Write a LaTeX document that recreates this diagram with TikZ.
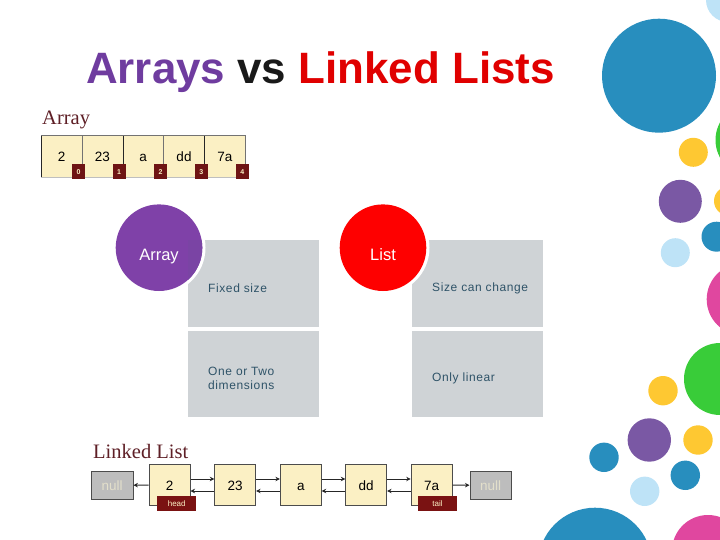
\documentclass[tikz,border=0pt]{standalone}
\usepackage{fontspec}
\usetikzlibrary{arrows.meta}
\setmainfont{Liberation Sans}
\newfontfamily\spaced[LetterSpace=5]{Liberation Sans}
\newfontfamily\serifface{Liberation Serif}
\definecolor{dotblue}{HTML}{288EBE}
\definecolor{dotlight}{HTML}{BEE3F7}
\definecolor{dotgreen}{HTML}{39CC39}
\definecolor{dotyellow}{HTML}{FEC832}
\definecolor{dotpurple}{HTML}{7A58A4}
\definecolor{dotpink}{HTML}{E0479F}
\definecolor{titlepurple}{HTML}{6F3C9F}
\definecolor{titlered}{HTML}{E00000}
\definecolor{cpurple}{HTML}{7F41A8}
\definecolor{cpurpled}{HTML}{7A44A4}
\definecolor{cred}{HTML}{FE0000}
\definecolor{panel}{HTML}{CFD3D6}
\definecolor{paneltext}{HTML}{2F5368}
\definecolor{cellfill}{HTML}{FBF0C4}
\definecolor{maroon}{HTML}{6E1414}
\definecolor{headfill}{HTML}{7A1212}
\definecolor{nullfill}{HTML}{BDBDBD}
\definecolor{nulltext}{HTML}{E3DFCB}
\definecolor{heading}{HTML}{5E1F26}
\tikzset{
  dot/.style={circle,fill=#1,draw=none,inner sep=0pt},
  panelbox/.style={fill=panel,draw=none,minimum width=131.5pt,minimum height=86.5pt,inner sep=0pt},
  paneltxt/.style={anchor=west,text=paneltext,font=\fontsize{12}{14}\spaced,align=left,inner sep=0pt},
  acell/.style={fill=cellfill,draw=none,minimum width=40.8pt,minimum height=40.7pt,inner sep=0pt,text height=10pt,text depth=0pt,font=\fontsize{13.5}{15}\selectfont},
  idx/.style={fill=maroon,draw=none,minimum width=13pt,minimum height=15pt,inner sep=0pt,text=cellfill,font=\fontsize{7}{8}\bfseries\selectfont},
  lnode/.style={fill=cellfill,draw=black!70,line width=0.8pt,minimum width=41pt,minimum height=41.4pt,inner sep=0pt,text height=10pt,text depth=0pt,font=\fontsize{13.5}{15}\selectfont},
  nullbox/.style={fill=nullfill,draw=black!70,line width=0.9pt,minimum width=41.5pt,minimum height=28.3pt,inner sep=0pt,text=nulltext,text height=10pt,text depth=0pt,font=\fontsize{13.5}{15}\selectfont},
  endtag/.style={fill=headfill,draw=none,minimum width=38.6pt,minimum height=15pt,inner sep=0pt,text=cellfill,font=\fontsize{8}{9}\selectfont},
  lk/.style={draw=black!85,line width=1pt,-{Stealth[length=4.5pt,width=4.5pt]}},
  heavy/.style={draw=black!85,line width=0.8pt},
  lightline/.style={draw=black!55,line width=0.7pt},
}
\begin{document}
\begin{tikzpicture}[x=1pt,y=-1pt]
\useasboundingbox (0,0) rectangle (720,540);
% decorative dots
\node[dot=dotblue,minimum size=114pt] (d1) at (659,75.7) {};
\node[dot=dotlight,minimum size=44pt] (d2) at (728,0) {};
\node[dot=dotgreen,minimum size=73pt] (d3) at (752,140) {};
\node[dot=dotyellow,minimum size=29pt] (d4) at (693.3,152.3) {};
\node[dot=dotpurple,minimum size=43pt] (d5) at (680.3,201.3) {};
\node[dot=dotyellow,minimum size=29pt] (d6) at (728.5,201) {};
\node[dot=dotblue,minimum size=30pt] (d7) at (716.5,236.7) {};
\node[dot=dotlight,minimum size=29pt] (d8) at (675.3,252.7) {};
\node[dot=dotpink,minimum size=72pt] (d9) at (742.7,299.3) {};
\node[dot=dotgreen,minimum size=72pt] (d10) at (720,379) {};
\node[dot=dotyellow,minimum size=29.4pt] (d11) at (663,390.7) {};
\node[dot=dotpurple,minimum size=43.4pt] (d12) at (649.3,440) {};
\node[dot=dotyellow,minimum size=29.4pt] (d13) at (698,440) {};
\node[dot=dotblue,minimum size=29.4pt] (d14) at (604,457.3) {};
\node[dot=dotblue,minimum size=29.4pt] (d15) at (685.3,475.3) {};
\node[dot=dotlight,minimum size=29.4pt] (d16) at (644.7,491.3) {};
\node[dot=dotblue,minimum size=114pt] (d17) at (595,564.7) {};
\node[dot=dotpink,minimum size=72pt] (d18) at (708,551) {};
% title
\node[anchor=base west,inner sep=0pt,font=\fontsize{43.9}{48}\bfseries\selectfont] (title) at (86,83.5)
  {\textcolor{titlepurple}{Arrays} \textcolor{black!90}{vs} \textcolor{titlered}{Linked Lists}};
% array
\node[anchor=base west,inner sep=0pt,text=heading,font=\fontsize{20.5}{22}\serifface] (arrhead) at (42,125) {Array};
\node[acell] (a0) at (61.6,156.4) {2};
\node[acell] (a1) at (102.4,156.4) {23};
\node[acell] (a2) at (143.2,156.4) {a};
\node[acell] (a3) at (184,156.4) {dd};
\node[acell] (a4) at (224.8,156.4) {7a};
\draw[lightline] (a0.north west) -- (a4.north east) -- (a4.south east);
\draw[draw=black!25,line width=0.7pt] (a0.south west) -- (a4.south east);
\draw[heavy] (a0.north west) -- (a0.south west);
\draw[lightline] (a0.north east) -- (a0.south east);
\draw[heavy] (a1.north east) -- (a1.south east);
\draw[lightline] (a2.north east) -- (a2.south east);
\draw[heavy] (a3.north east) -- (a3.south east);
\node[idx] (i0) at (78.5,171.7) {0};
\node[idx] (i1) at (119,171.7) {1};
\node[idx] (i2) at (160.5,171.7) {2};
\node[idx] (i3) at (201.3,171.7) {3};
\node[idx] (i4) at (242.3,171.7) {4};
% panels
\node[panelbox] (p1) at (253.4,283.3) {};
\node[panelbox] (p2) at (253.4,373.8) {};
\node[panelbox] (p3) at (477.6,283.3) {};
\node[panelbox] (p4) at (477.6,373.8) {};
\node[circle,fill=white,minimum size=93pt,inner sep=0pt] (ring1) at (159,247.7) {};
\node[circle,fill=white,minimum size=93pt,inner sep=0pt] (ring2) at (383,247.7) {};
\node[circle,fill=cpurple,minimum size=86.6pt,inner sep=0pt] (c1) at (159,247.7) {};
\node[circle,fill=cred,minimum size=86.6pt,inner sep=0pt] (c2) at (383,247.7) {};
\begin{scope}
\clip (159,247.7) circle (43.3pt);
\fill[cpurpled] (188,240) rectangle (205,295);
\end{scope}
\node[anchor=base,text=white,inner sep=0pt,font=\fontsize{16.5}{18}\selectfont] (c1t) at (159,260) {Array};
\node[anchor=base,text=white,inner sep=0pt,font=\fontsize{16.5}{18}\selectfont] (c2t) at (383,260) {List};
\node[paneltxt] (t1) at (208,288) {Fixed size};
\node[paneltxt] (t2) at (208,378.5) {One or Two\\dimensions};
\node[paneltxt] (t3) at (432,288) {Size can change};
\node[paneltxt] (t4) at (432,378.5) {Only linear};
% linked list
\node[anchor=base west,inner sep=0pt,text=heading,font=\fontsize{20.5}{22}\serifface] (llhead) at (93,458) {Linked List};
\node[nullbox] (nl) at (112.2,485.2) {null};
\node[lnode] (n0) at (169.6,485) {2};
\node[lnode] (n1) at (235.2,485) {23};
\node[lnode] (n2) at (300.8,485) {a};
\node[lnode] (n3) at (366.2,485) {dd};
\node[lnode] (n4) at (431.6,485) {7a};
\node[nullbox] (nr) at (490.7,485.2) {null};
\draw[lk] (n0.west) -- (nl.east);
\draw[lk] (n4.east) -- (nr.west);
\foreach \u/\v in {n0/n1,n1/n2,n2/n3,n3/n4}{
  \draw[lk] ([yshift=6pt]\u.east) -- ([yshift=6pt]\v.west);
  \draw[lk] ([yshift=-6pt]\v.west) -- ([yshift=-6pt]\u.east);
}
\node[endtag] (head) at (176.7,503.2) {head};
\node[endtag] (tail) at (437.5,503.2) {tail};
\end{tikzpicture}
\end{document}
